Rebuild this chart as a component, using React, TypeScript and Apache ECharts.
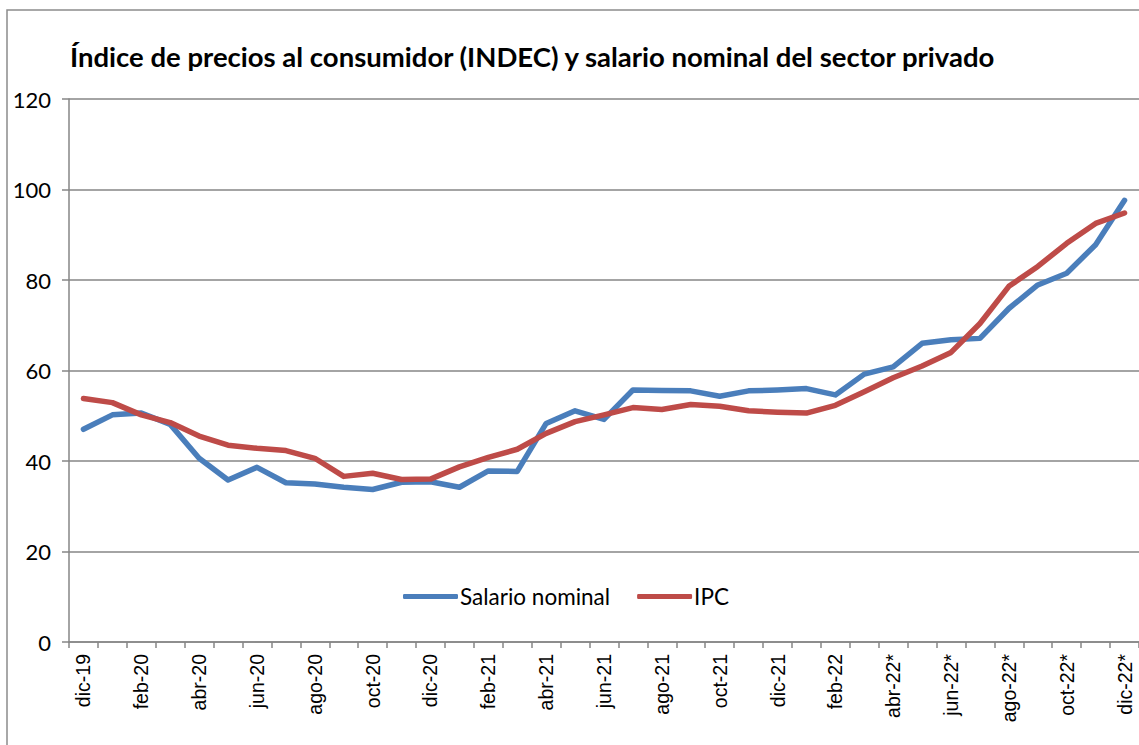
import React, { useEffect, useRef } from "react";
import * as echarts from "echarts";

const categories = [
  "dic-19", "ene-20", "feb-20", "mar-20", "abr-20", "may-20", "jun-20", "jul-20", "ago-20", "sep-20", "oct-20", "nov-20",
  "dic-20", "ene-21", "feb-21", "mar-21", "abr-21", "may-21", "jun-21", "jul-21", "ago-21", "sep-21", "oct-21", "nov-21",
  "dic-21", "ene-22", "feb-22", "mar-22", "abr-22*", "may-22*", "jun-22*", "jul-22*", "ago-22*", "sep-22*", "oct-22*", "nov-22*",
  "dic-22*",
];

const salarioNominal = [
  47.0, 50.2, 50.6, 48.1, 40.6, 35.8, 38.6, 35.2, 34.9, 34.2, 33.7, 35.3,
  35.4, 34.2, 37.8, 37.7, 48.3, 51.1, 49.2, 55.7, 55.6, 55.5, 54.3, 55.5,
  55.7, 56.0, 54.6, 59.2, 60.8, 66.0, 66.8, 67.1, 73.7, 78.9, 81.5, 87.8,
  97.6,
];

const ipc = [
  53.8, 52.9, 50.2, 48.5, 45.5, 43.5, 42.8, 42.3, 40.6, 36.6, 37.3, 35.9,
  36.0, 38.7, 40.8, 42.6, 46.1, 48.7, 50.2, 51.8, 51.4, 52.5, 52.1, 51.1,
  50.8, 50.6, 52.3, 55.3, 58.4, 61.0, 64.0, 70.4, 78.6, 83.0, 88.1, 92.5,
  94.8,
];

const yTicks = { min: 0, max: 120, interval: 20 };

const BLUE = "#4a7ebb";
const RED = "#be4b48";
const GRID = "#868686";

export default function App() {
  const ref = useRef<HTMLDivElement>(null);
  useEffect(() => {
    if (!ref.current) return;
    const chart = echarts.init(ref.current, null, { renderer: "svg" });
    chart.setOption({
      animation: false,
      backgroundColor: "#ffffff",
      graphic: [
        {
          type: "rect",
          shape: { x: 7, y: 10, width: 1150, height: 760 },
          style: { fill: "none", stroke: "#8c8c8c", lineWidth: 1.5 },
          z: 0,
        },
        {
          type: "text",
          left: 70,
          top: 42,
          style: {
            text: "Índice de precios al consumidor (INDEC) y salario nominal del sector privado",
            font: "bold 27.5px Lato, 'Open Sans', sans-serif",
            fill: "#000000",
          },
        },
      ],
      legend: {
        left: 398,
        top: 580,
        itemWidth: 55,
        itemHeight: 5,
        itemGap: 27,
        icon: "roundRect",
        textStyle: { fontSize: 22.5, fontFamily: "Lato, 'Open Sans', sans-serif", color: "#000", padding: [0, 0, 0, -3] },
        data: ["Salario nominal", "IPC"],
      },
      grid: { left: 69, right: 0, top: 99, bottom: 103, containLabel: false },
      xAxis: {
        type: "category",
        data: categories,
        boundaryGap: true,
        axisLine: { show: true, lineStyle: { color: GRID, width: 1.5 } },
        axisTick: { show: true, interval: 0, length: 6, lineStyle: { color: GRID, width: 1.5 } },
        axisLabel: {
          interval: 1,
          rotate: 90,
          margin: 12,
          fontSize: 19.5,
          fontFamily: "'Liberation Sans', Arial, sans-serif",
          color: "#000",
        },
        splitLine: { show: false },
      },
      yAxis: {
        type: "value",
        min: yTicks.min,
        max: yTicks.max,
        interval: yTicks.interval,
        axisLine: { show: true, lineStyle: { color: GRID, width: 1.5 } },
        axisTick: { show: true, length: 7, lineStyle: { color: GRID, width: 1.5 } },
        axisLabel: {
          margin: 18,
          fontSize: 22,
          fontFamily: "Lato, 'Open Sans', sans-serif",
          color: "#000",
        },
        splitLine: { show: true, lineStyle: { color: GRID, width: 1.5 } },
      },
      series: [
        {
          name: "Salario nominal",
          type: "line",
          data: salarioNominal,
          symbol: "none",
          lineStyle: { color: BLUE, width: 5.5, cap: "round", join: "round" },
          itemStyle: { color: BLUE },
          z: 3,
        },
        {
          name: "IPC",
          type: "line",
          data: ipc,
          symbol: "none",
          lineStyle: { color: RED, width: 5.5, cap: "round", join: "round" },
          itemStyle: { color: RED },
          z: 4,
        },
      ],
    });
    return () => chart.dispose();
  }, []);
  return (
    <div
      ref={ref}
      style={{ position: "fixed", left: 0, top: 0, width: 1139, height: 745 }}
    />
  );
}
